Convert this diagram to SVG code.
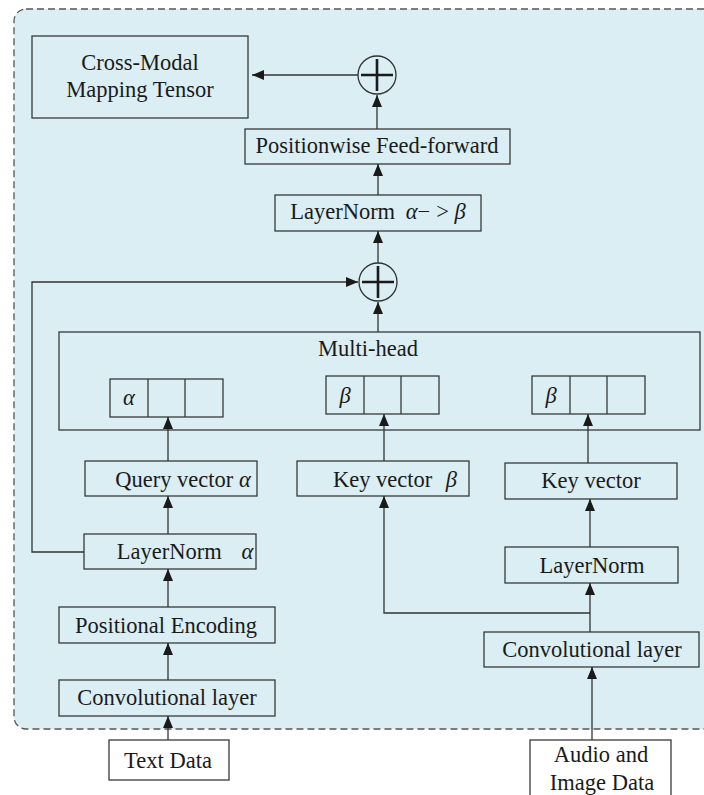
<svg xmlns="http://www.w3.org/2000/svg" width="704" height="795" viewBox="0 0 704 795">
<style>
.bx{fill:none;stroke:#3a3a3a;stroke-width:1.3}
.wb{fill:#ffffff;stroke:#3a3a3a;stroke-width:1.3}
.t{font-family:"Liberation Serif","Times New Roman",serif;font-size:22.5px;fill:#1a1a1a;text-anchor:middle}
.i{font-style:italic}
.c{fill:none;stroke:#333;stroke-width:1.3}
.pl{stroke:#1a1a1a;stroke-width:2.6;fill:none}
</style>
<defs>
<marker id="ah" viewBox="0 0 12 10" refX="12" refY="5" markerWidth="12" markerHeight="10" markerUnits="userSpaceOnUse" orient="auto">
<path d="M0,0 L12,5 L0,10 Z" fill="#1a1a1a"/>
</marker>
</defs>
<rect x="14" y="9" width="720" height="720" rx="12" fill="#daeef3" stroke="#555" stroke-width="1.3" stroke-dasharray="7,4"/>

<g id="cross-modal"><rect class="bx" x="32" y="36" width="216" height="82"/><text class="t" x="140" y="70">Cross-Modal</text><text class="t" x="140" y="97">Mapping Tensor</text></g>
<g id="add1"><circle class="c" cx="377" cy="75" r="19"/><path class="pl" d="M361,75 H393 M377,59 V91"/></g>
<g id="ffn"><rect class="bx" x="245" y="129" width="265" height="35"/><text class="t" x="377" y="153">Positionwise Feed-forward</text></g>
<g id="ln-ab"><rect class="bx" x="275" y="195" width="206" height="36"/><text class="t" x="378" y="219">LayerNorm <tspan class="i" dx="5">α</tspan>−<tspan dx="6">&gt;</tspan> <tspan class="i">β</tspan></text></g>
<g id="add2"><circle class="c" cx="378" cy="282" r="19"/><path class="pl" d="M362,282 H394 M378,266 V298"/></g>
<g id="multihead"><rect class="bx" x="59" y="332" width="641" height="98"/><text class="t" x="368" y="356">Multi-head</text>
<g id="cells-a"><rect class="bx" x="110" y="379" width="113" height="38"/><path class="bx" d="M148,379 V417 M185,379 V417"/><text class="t i" x="129" y="405">α</text></g>
<g id="cells-b1"><rect class="bx" x="326" y="376" width="113" height="38"/><path class="bx" d="M364,376 V414 M401,376 V414"/><text class="t i" x="345" y="403">β</text></g>
<g id="cells-b2"><rect class="bx" x="532" y="376" width="113" height="38"/><path class="bx" d="M570,376 V414 M607,376 V414"/><text class="t i" x="551" y="403">β</text></g>
</g>
<g id="query"><rect class="bx" x="85" y="461" width="172" height="35"/><text class="t" x="183" y="487">Query vector <tspan class="i">α</tspan></text></g>
<g id="key-b"><rect class="bx" x="297" y="461" width="172" height="35"/><text class="t" x="395" y="487">Key vector <tspan class="i" dx="8">β</tspan></text></g>
<g id="key"><rect class="bx" x="505" y="463" width="172" height="36"/><text class="t" x="591" y="488">Key vector</text></g>
<g id="ln-a"><rect class="bx" x="84" y="534" width="172" height="35"/><text class="t" x="185" y="559">LayerNorm <tspan class="i" dx="14">α</tspan></text></g>
<g id="ln-r"><rect class="bx" x="505" y="547" width="173" height="36"/><text class="t" x="592" y="573">LayerNorm</text></g>
<g id="pe"><rect class="bx" x="59" y="607" width="216" height="36"/><text class="t" x="166" y="633">Positional Encoding</text></g>
<g id="conv-l"><rect class="bx" x="59" y="680" width="216" height="36"/><text class="t" x="167" y="705">Convolutional layer</text></g>
<g id="conv-r"><rect class="bx" x="484" y="632" width="215" height="35"/><text class="t" x="592" y="657">Convolutional layer</text></g>
<g id="text-data"><rect class="wb" x="109" y="740" width="120" height="40"/><text class="t" x="168" y="768">Text Data</text></g>
<g id="audio"><rect class="wb" x="530" y="740" width="141" height="70"/><text class="t" x="601" y="762">Audio and</text><text class="t" x="602" y="790">Image Data</text></g>

<g id="connectors" fill="none" stroke="#333" stroke-width="1.3">
<path d="M358,75 H252" marker-end="url(#ah)"/>
<path d="M377,129 V95" marker-end="url(#ah)"/>
<path d="M378,195 V164" marker-end="url(#ah)"/>
<path d="M378,263 V231" marker-end="url(#ah)"/>
<path d="M378,332 V302" marker-end="url(#ah)"/>
<path d="M84,552 H32 V282 H358" marker-end="url(#ah)"/>
<path d="M168,461 V417" marker-end="url(#ah)"/>
<path d="M168,534 V496" marker-end="url(#ah)"/>
<path d="M168,607 V569" marker-end="url(#ah)"/>
<path d="M168,680 V643" marker-end="url(#ah)"/>
<path d="M168,740 V716" marker-end="url(#ah)"/>
<path d="M384,461 V414" marker-end="url(#ah)"/>
<path d="M588,463 V414" marker-end="url(#ah)"/>
<path d="M590,547 V499" marker-end="url(#ah)"/>
<path d="M590,632 V583" marker-end="url(#ah)"/>
<path d="M590,613 H384 V496" marker-end="url(#ah)"/>
<path d="M592,740 V667" marker-end="url(#ah)"/>
</g>
</svg>
